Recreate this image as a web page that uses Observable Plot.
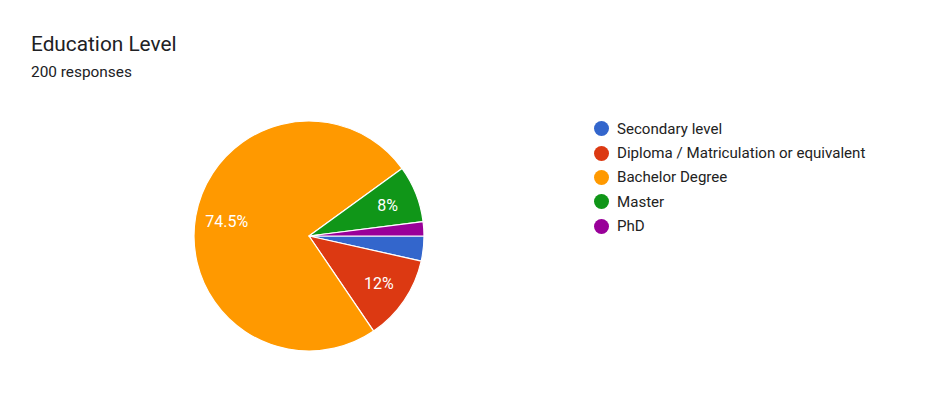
<!DOCTYPE html>
<html>
<head>
<meta charset="utf-8">
<script src="https://cdn.jsdelivr.net/npm/d3@7"></script>
<script src="https://cdn.jsdelivr.net/npm/@observablehq/plot@0.6"></script>
<style>
  html, body { margin: 0; padding: 0; background: #fff; }
  #page { position: relative; width: 939px; height: 395px; overflow: hidden; font-family: Roboto, "Open Sans", sans-serif; }
  #title { position: absolute; left: 31px; top: 30px; font-size: 20.8px; color: #202124; line-height: 28px; }
  #subtitle { position: absolute; left: 31px; top: 62px; font-size: 15.4px; color: #202124; line-height: 20px; }
  #chart { position: absolute; left: 192.5px; top: 119.5px; }
  #legend { position: absolute; left: 594px; top: 116.5px; font-size: 15.1px; color: #222; }
  #legend .row { display: flex; align-items: center; height: 24.4px; }
  #legend .dot { width: 15px; height: 15px; border-radius: 50%; margin-right: 8px; flex: none; }
</style>
</head>
<body>
<div id="page">
  <div id="title">Education Level</div>
  <div id="subtitle"></div>
  <div id="chart"></div>
  <div id="legend"></div>
</div>
<script>
// Survey answers: number of respondents per education level
const categories = ["Secondary level", "Diploma / Matriculation or equivalent", "Bachelor Degree", "Master", "PhD"];
const counts = [7, 24, 149, 16, 4];
const colors = ["#3366cc", "#dc3912", "#ff9900", "#109618", "#990099"];

const total = d3.sum(counts);
document.getElementById("subtitle").textContent = `${total} responses`;

// Slices run clockwise starting from 3 o'clock
const pie = d3.pie().sort(null).startAngle(Math.PI / 2).endAngle(Math.PI / 2 + 2 * Math.PI);
const arcs = pie(counts);

const slices = arcs.map((a, i) => {
  const mid = (a.startAngle + a.endAngle) / 2;
  const pct = a.value / total * 100;
  return {
    category: categories[i],
    color: colors[i],
    arc: a,
    pct,
    label: pct >= 5 ? `${+pct.toFixed(1)}%` : "",
    lx: 0.73 * Math.sin(mid),
    ly: 0.73 * Math.cos(mid)
  };
});

// Wedges drawn with d3.arc, centred and sized by Plot's x/y scales
function wedges(index, scales) {
  const cx = scales.x(0), cy = scales.y(0);
  const r = scales.x(1) - scales.x(0);
  const arc = d3.arc().innerRadius(0).outerRadius(r);
  const g = d3.create("svg:g").attr("transform", `translate(${cx},${cy})`);
  g.selectAll("path")
    .data(slices)
    .join("path")
    .attr("d", d => arc(d.arc))
    .attr("fill", d => d.color)
    .attr("stroke", "#fff")
    .attr("stroke-width", 1.2)
    .attr("stroke-linejoin", "round");
  return g.node();
}

const size = 232;
const chart = Plot.plot({
  width: size,
  height: size,
  margin: 1,
  x: {domain: [-1, 1], axis: null},
  y: {domain: [-1, 1], axis: null},
  style: {background: "transparent", fontFamily: "Roboto, sans-serif", overflow: "visible"},
  marks: [
    wedges,
    Plot.text(slices.filter(d => d.label), {
      x: "lx",
      y: "ly",
      text: "label",
      fill: "#fff",
      fontSize: 16,
      textAnchor: "middle"
    })
  ]
});
document.getElementById("chart").appendChild(chart);

// Legend rows
const legend = d3.select("#legend");
const rows = legend.selectAll(".row").data(slices).join("div").attr("class", "row");
rows.append("span").attr("class", "dot").style("background", d => d.color);
rows.append("span").text(d => d.category);
</script>
</body>
</html>
